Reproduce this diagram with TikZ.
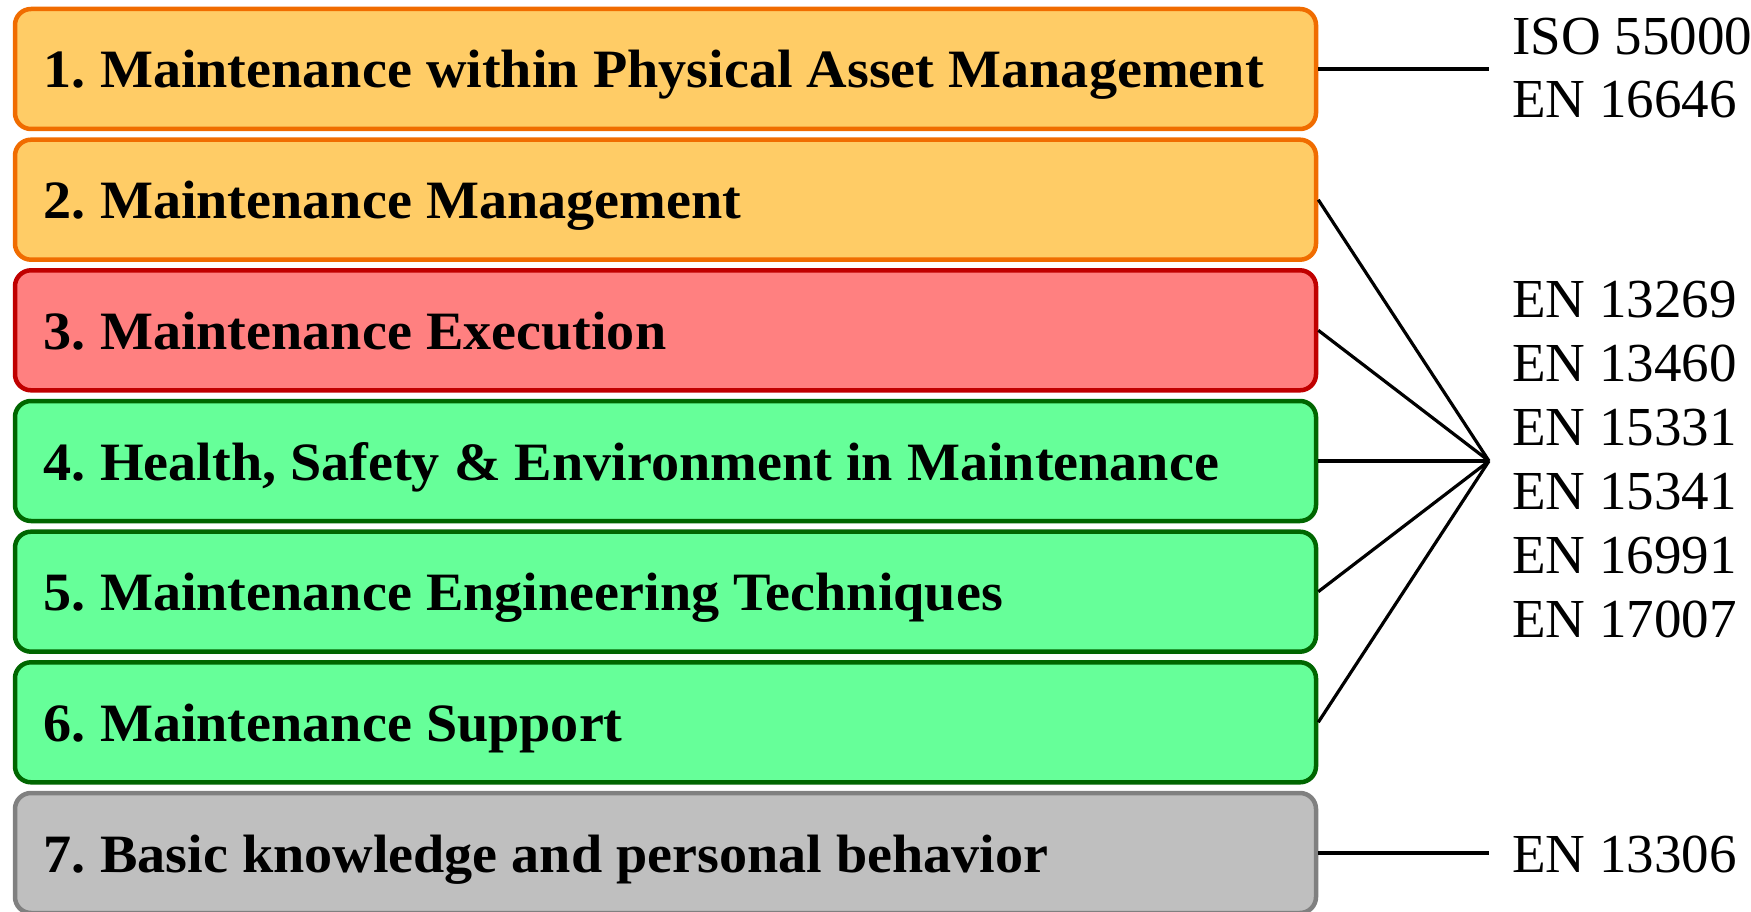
\documentclass[tikz,border=0pt]{standalone}
\usepackage{fontspec}
\setmainfont{Liberation Serif}
\newfontfamily\boxfont{Liberation Serif}[FakeStretch=1.04]
\definecolor{orFill}{RGB}{255,204,102}
\definecolor{orDraw}{RGB}{240,108,0}
\definecolor{rdFill}{RGB}{255,128,128}
\definecolor{rdDraw}{RGB}{192,0,0}
\definecolor{gnFill}{RGB}{102,255,153}
\definecolor{gnDraw}{RGB}{0,102,0}
\definecolor{gyFill}{RGB}{191,191,191}
\definecolor{gyDraw}{RGB}{128,128,128}
\begin{document}
\begin{tikzpicture}[x=1pt,y=-1pt,
  box/.style={rectangle, rounded corners=16pt, line width=4.5pt, minimum width=1301pt, minimum height=120pt, inner sep=0pt},
  orbox/.style={box, fill=orFill, draw=orDraw},
  rdbox/.style={box, fill=rdFill, draw=rdDraw},
  gnbox/.style={box, fill=gnFill, draw=gnDraw},
  gybox/.style={box, fill=gyFill, draw=gyDraw},
  lbl/.style={anchor=base west, inner sep=0pt, font=\boxfont\bfseries\fontsize{54}{60}\selectfont},
  std/.style={anchor=base west, inner sep=0pt, font=\fontsize{55}{60}\selectfont},
  conn/.style={line width=3.2pt, draw=black}]
\useasboundingbox (0,0) rectangle (1751,912);
\node[orbox] (b1) at (665.5,69) {};
\node[orbox] (b2) at (665.5,199.7) {};
\node[rdbox] (b3) at (665.5,330.3) {};
\node[gnbox] (b4) at (665.5,461) {};
\node[gnbox] (b5) at (665.5,591.7) {};
\node[gnbox] (b6) at (665.5,722.3) {};
\node[gybox] (b7) at (665.5,853) {};
\node[lbl] (t1) at (43,88) {1.\hspace{-4pt} Maintenance within Physical Asset Management};
\node[lbl] (t2) at (43,218.7) {2.\hspace{-4pt} Maintenance Management};
\node[lbl] (t3) at (43,349.3) {3.\hspace{-4pt} Maintenance Execution};
\node[lbl] (t4) at (43,480) {4.\hspace{-4pt} Health, Safety \& Environment in Maintenance};
\node[lbl] (t5) at (43,610.7) {5.\hspace{-4pt} Maintenance Engineering Techniques};
\node[lbl] (t6) at (43,741.3) {6.\hspace{-4pt} Maintenance Support};
\node[lbl] (t7) at (43,872) {7.\hspace{-4pt} Basic knowledge and personal behavior};
\coordinate (r1) at (1489,69);
\coordinate (fan) at (1489,461);
\coordinate (r7) at (1489,853);
\draw[conn] (b1.east) -- (r1);
\draw[conn] (b2.east) -- (fan);
\draw[conn] (b3.east) -- (fan);
\draw[conn] (b4.east) -- (fan);
\draw[conn] (b5.east) -- (fan);
\draw[conn] (b6.east) -- (fan);
\draw[conn] (b7.east) -- (r7);
\node[std] (s1) at (1512,55) {ISO 55000};
\node[std] (s2) at (1512,118) {EN 16646};
\node[std] (s3) at (1512,317) {EN 13269};
\node[std] (s4) at (1512,381) {EN 13460};
\node[std] (s5) at (1512,445) {EN 15331};
\node[std] (s6) at (1512,509) {EN 15341};
\node[std] (s7) at (1512,573) {EN 16991};
\node[std] (s8) at (1512,637) {EN 17007};
\node[std] (s9) at (1512,872) {EN 13306};
\end{tikzpicture}
\end{document}
